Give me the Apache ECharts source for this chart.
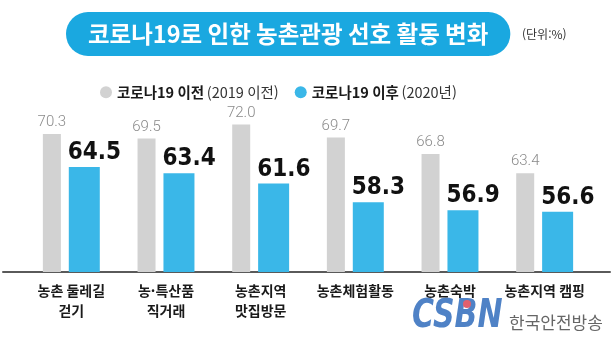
<!DOCTYPE html>
<html lang="ko">
<head>
<meta charset="utf-8">
<script src="https://cdn.jsdelivr.net/npm/echarts@6/dist/echarts.min.js"></script>
<style>
  html, body { margin: 0; padding: 0; background: #fff; }
  #chart { width: 613px; height: 337px; }
</style>
</head>
<body>
<div id="chart"></div>
<script>
// 농촌관광 활동별 선호도 (단위: %)
var categories = ['농촌 둘레길\n걷기', '농·특산품\n직거래', '농촌지역\n맛집방문', '농촌체험활동', '농촌숙박', '농촌지역 캠핑'];
var before2019 = [70.3, 69.5, 72.0, 69.7, 66.8, 63.4];
var after2020 = [64.5, 63.4, 61.6, 58.3, 56.9, 56.6];
var seriesNames = ['코로나19 이전 (2019 이전)', '코로나19 이후 (2020년)'];

var KR = '"Noto Sans CJK KR", "Noto Sans", sans-serif';
var GRAY = '#d2d2d2';
var BLUE = '#3ab7e8';

var chart = echarts.init(document.getElementById('chart'), null, { renderer: 'canvas' });

chart.setOption({
  animation: false,
  backgroundColor: '#ffffff',
  title: [
    {
      text: '코로나19로 인한 농촌관광 선호 활동 변화',
      left: 66,
      top: 12,
      padding: [8, 22, 8, 22],
      backgroundColor: '#1aa8e0',
      borderRadius: 22,
      textStyle: { color: '#ffffff', fontFamily: KR, fontWeight: 'bold', fontSize: 23.5, lineHeight: 28 }
    },
    {
      text: '(단위:%)',
      left: 522,
      top: 28,
      padding: 0,
      textStyle: { color: '#333333', fontFamily: KR, fontWeight: 'normal', fontSize: 12 }
    }
  ],
  legend: {
    data: seriesNames,
    left: 95,
    top: 80,
    icon: 'circle',
    itemWidth: 12,
    itemHeight: 12,
    itemGap: 16,
    formatter: function (name) {
      var i = name.indexOf(' (');
      return '{b|' + name.slice(0, i) + '} {n|' + name.slice(i + 1) + '}';
    },
    textStyle: {
      fontFamily: KR,
      rich: {
        b: { fontFamily: KR, fontWeight: 'bold', fontSize: 14.5, color: '#1a1a1a' },
        n: { fontFamily: KR, fontWeight: 'normal', fontSize: 14.5, color: '#333333' }
      }
    }
  },
  grid: [
    { left: 24, right: 21, top: 79, bottom: 65 },
    { left: 3, right: 3, top: 79, bottom: 65 }
  ],
  xAxis: [
    {
      type: 'category',
      gridIndex: 0,
      data: categories,
      axisLine: { show: false },
      axisTick: { show: false },
      axisLabel: {
        margin: 9,
        interval: 0,
        fontFamily: KR,
        fontWeight: 'bold',
        fontSize: 14,
        lineHeight: 20,
        color: '#1a1a1a'
      }
    },
    {
      type: 'value',
      gridIndex: 1,
      min: 0,
      max: 1,
      axisLine: { show: true, lineStyle: { color: '#5a5a5a', width: 2 } },
      axisTick: { show: false },
      axisLabel: { show: false },
      splitLine: { show: false }
    }
  ],
  yAxis: [
    { type: 'value', gridIndex: 0, min: 46, max: 80, show: false },
    { type: 'value', gridIndex: 1, min: 0, max: 1, show: false }
  ],
  series: [
    {
      name: seriesNames[0],
      type: 'bar',
      xAxisIndex: 0,
      yAxisIndex: 0,
      data: before2019,
      barWidth: 18,
      barGap: '44%',
      itemStyle: { color: GRAY },
      label: {
        show: true,
        position: 'top',
        distance: 4,
        formatter: function (p) { return p.value.toFixed(1); },
        fontFamily: 'Roboto, sans-serif',
        fontWeight: 300,
        fontSize: 15,
        color: '#8a8a8a'
      }
    },
    {
      name: seriesNames[1],
      type: 'bar',
      xAxisIndex: 0,
      yAxisIndex: 0,
      data: after2020,
      barWidth: 31,
      itemStyle: { color: BLUE },
      label: {
        show: true,
        position: [-1, -2],
        align: 'left',
        verticalAlign: 'bottom',
        formatter: function (p) { return p.value.toFixed(1); },
        fontFamily: '"DejaVu Sans Condensed", "DejaVu Sans", sans-serif',
        fontWeight: 'bold',
        fontSize: 24,
        color: '#111111'
      }
    }
  ],
  graphic: [
    {
      type: 'text',
      left: 412,
      top: 297,
      scaleY: 1.3,
      style: {
        text: 'CSBN',
        font: 'italic bold 30px "DejaVu Sans", sans-serif',
        fill: '#4f82c6'
      }
    },
    {
      type: 'circle',
      shape: { cx: 467, cy: 304, r: 4 },
      style: { fill: '#e0606e' }
    },
    {
      type: 'text',
      left: 509,
      top: 314,
      style: {
        text: '한국안전방송',
        font: 'normal 17px "Noto Sans CJK KR", sans-serif',
        fill: '#666666'
      }
    }
  ]
});
</script>
</body>
</html>
